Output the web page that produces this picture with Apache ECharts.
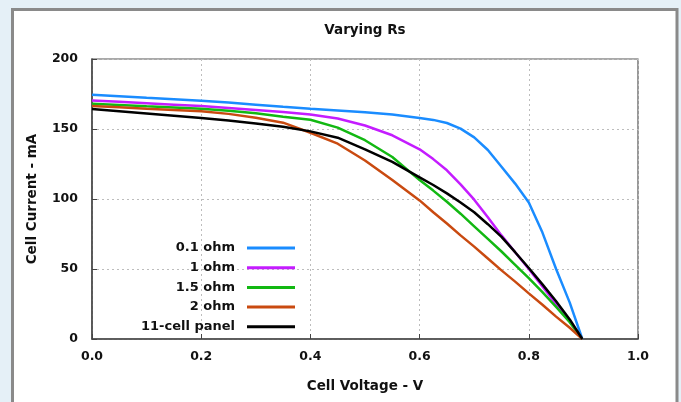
<!DOCTYPE html>
<html><head><meta charset="utf-8">
<script src="https://cdn.jsdelivr.net/npm/echarts@6/dist/echarts.min.js"></script>
<style>html,body{margin:0;padding:0;background:#e5f0f7;}#c{width:681px;height:402px;}</style>
</head><body><div id="c"></div>
<script>
const voltage = [0,0.05,0.1,0.15,0.2,0.25,0.3,0.35,0.4,0.45,0.5,0.55,0.6,0.625,0.65,0.675,0.7,0.725,0.75,0.775,0.8,0.825,0.85,0.875,0.898];
const rs01   = [174.5,173.4,172.3,171.3,170.2,168.9,167.4,165.9,164.5,163.3,161.9,160.3,157.9,156.5,154.3,150.3,144,135,123,111,97.5,76,50,26,0];
const rs1    = [170.4,169.4,168.4,167.4,166.4,165,163.6,162.2,160.4,157.5,152.5,145.5,135.5,128.5,120.5,110.5,99.5,87,74,62,50,37.5,25,12.5,0];
const rs15   = [168,167.1,166.2,165.4,164.5,163,161.2,158.8,156.6,151,142,130,113.5,106,98,89.5,80.5,71.5,62.5,53,43.5,33.5,23,12,0];
const rs2    = [166.4,165.5,164.5,163.6,162.6,160.8,158,154.5,147.3,139.5,127.5,113.5,99,90.5,82.5,74,66,57.5,49,41,32.6,24.5,16,8,0];
const panel  = [164.3,162.7,161.1,159.5,157.9,156,154,151.6,148.3,143.8,135.5,126.5,115.5,110,104,97.5,90.5,82,73,62,50.7,39,27,14,0];
const seriesNames = ['0.1 ohm','1 ohm','1.5 ohm','2 ohm','11-cell panel'];
const seriesColors = ['#1a8cff','#c41cff','#12b812','#c94a10','#000000'];
const xTicks = [0,0.2,0.4,0.6,0.8,1.0];
const yTicks = [0,50,100,150,200];

const FONT = 'DejaVu Sans';
const allData = [rs01, rs1, rs15, rs2, panel];
const chart = echarts.init(document.getElementById('c'), null, {renderer:'canvas'});
chart.setOption({
  backgroundColor: '#e5f0f7',
  animation: false,
  graphic: [{
    type: 'rect', z: -100, silent: true,
    shape: {x: 12.5, y: 9.5, width: 664.5, height: 400},
    style: {fill: '#ffffff', stroke: '#8a8a8a', lineWidth: 3}
  }],
  title: {
    text: 'Varying Rs', left: 365, top: 23, textAlign: 'center', padding: 0,
    textStyle: {fontFamily: FONT, fontWeight: 'bold', fontSize: 13.5, color: '#111'}
  },
  grid: {left: 92, right: 43, top: 59, bottom: 63, show: true, borderColor: '#555', borderWidth: 1.2, backgroundColor: 'transparent'},
  legend: {
    orient: 'vertical', right: 386, top: 240, align: 'right', padding: 0,
    itemWidth: 48, itemHeight: 3, itemGap: 3.7, icon: 'rect',
    data: seriesNames,
    textStyle: {fontFamily: FONT, fontWeight: 'bold', fontSize: 13, color: '#111', lineHeight: 16, padding: [0, 7, 0, 0]}
  },
  xAxis: {
    type: 'value', min: xTicks[0], max: xTicks[xTicks.length-1], interval: 0.2,
    name: 'Cell Voltage - V', nameLocation: 'middle', nameGap: 40,
    nameTextStyle: {fontFamily: FONT, fontWeight: 'bold', fontSize: 13.5, color: '#111'},
    axisLine: {show: true, lineStyle: {color: '#444', width: 1.5}},
    axisTick: {show: true, inside: true, length: 5, lineStyle: {color: '#444'}},
    axisLabel: {margin: 11, fontFamily: FONT, fontWeight: 'bold', fontSize: 12.5, color: '#111', formatter: v => v.toFixed(1)},
    splitLine: {show: true, lineStyle: {color: '#bdbdbd', type: [2, 3], width: 1}}
  },
  yAxis: {
    type: 'value', min: yTicks[0], max: yTicks[yTicks.length-1], interval: 50,
    name: 'Cell Current - mA', nameLocation: 'middle', nameGap: 53, nameRotate: 90,
    nameTextStyle: {fontFamily: FONT, fontWeight: 'bold', fontSize: 13.5, color: '#111'},
    axisLine: {show: true, lineStyle: {color: '#444', width: 1.5}},
    axisTick: {show: true, inside: true, length: 5, lineStyle: {color: '#444'}},
    axisLabel: {margin: 14, fontFamily: FONT, fontWeight: 'bold', fontSize: 12.5, color: '#111'},
    splitLine: {show: true, lineStyle: {color: '#bdbdbd', type: [2, 3], width: 1}}
  },
  series: seriesNames.map((n, k) => ({
    name: n, type: 'line', showSymbol: false, symbol: 'none', smooth: false,
    lineStyle: {color: seriesColors[k], width: 2.5},
    itemStyle: {color: seriesColors[k]},
    z: 2 + k,
    data: voltage.map((v, i) => [v, allData[k][i]])
  }))
});
</script></body></html>
